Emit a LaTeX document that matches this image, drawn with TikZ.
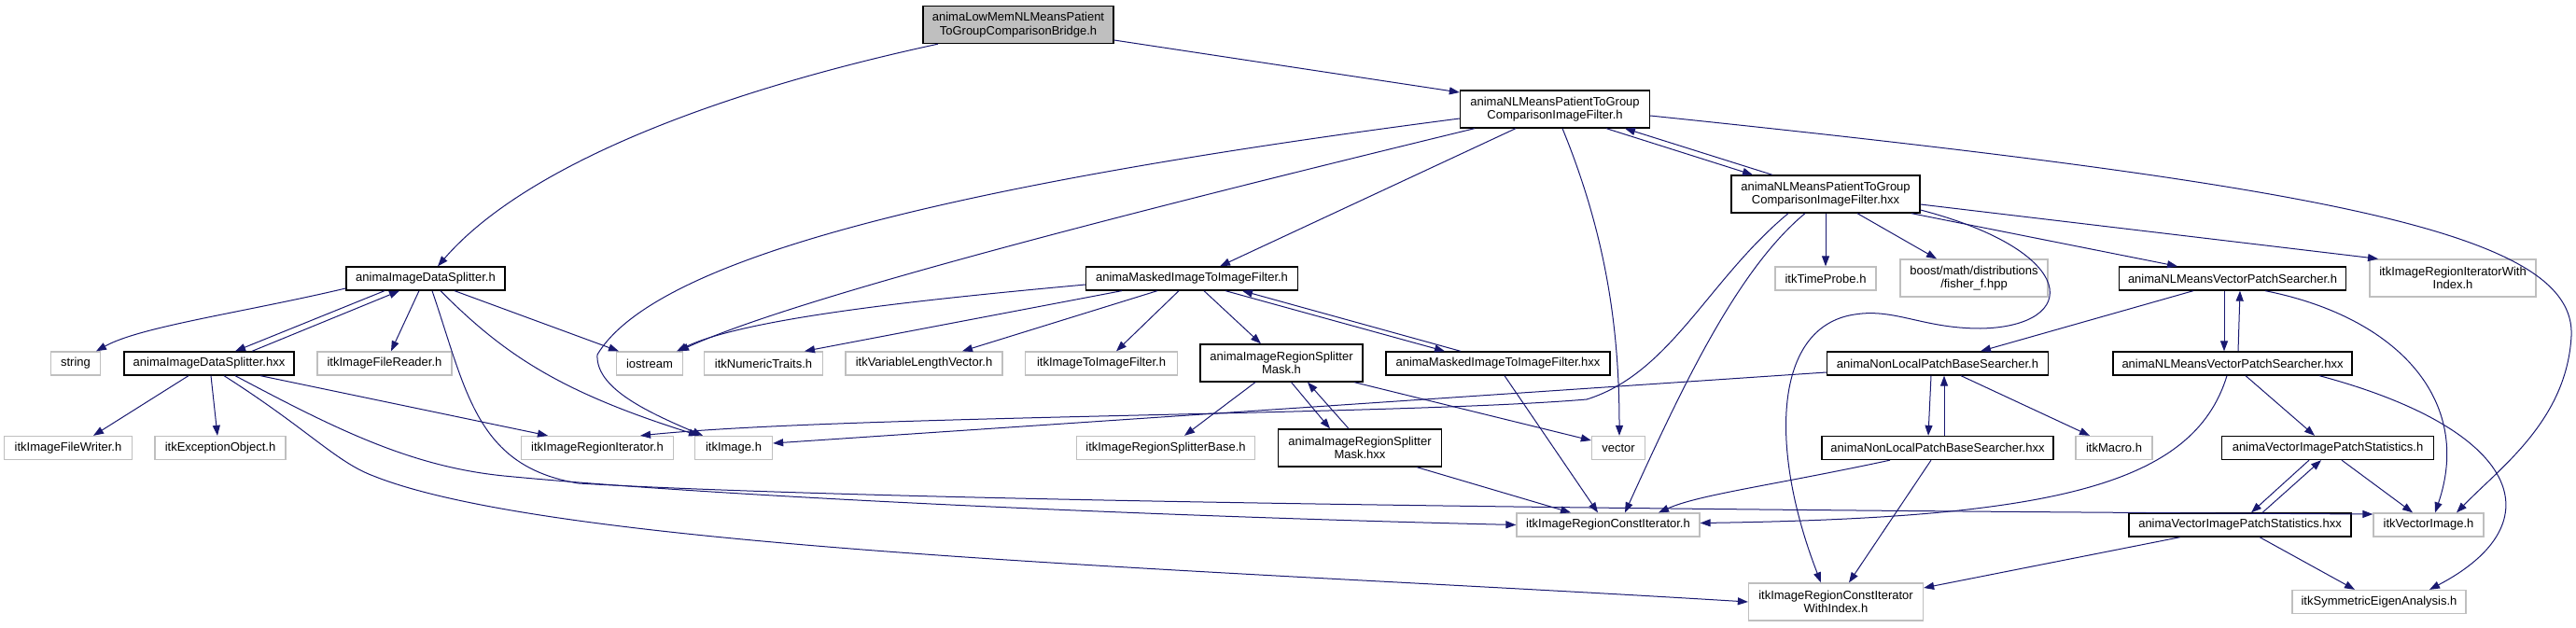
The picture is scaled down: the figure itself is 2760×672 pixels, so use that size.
\documentclass[tikz,border=0pt]{standalone}
\usepackage{fontspec}
\setmainfont{Liberation Sans}
\usetikzlibrary{arrows.meta}
\definecolor{edgeblue}{HTML}{191970}
\definecolor{greyline}{HTML}{BFBFBF}
\tikzset{
  hdrnode/.style={draw=black,line width=1.3pt,fill=white,inner sep=0pt,minimum height=25pt,align=center,font=\fontsize{13}{14.5}\selectfont},
  rootnode/.style={hdrnode,fill=greyline},
  extnode/.style={hdrnode,draw=greyline},
  twoline/.style={minimum height=40pt},
  incl/.style={-{Triangle[length=11pt,width=8pt]},edgeblue,line width=1pt}
}

\begin{document}
\begin{tikzpicture}[x=1pt,y=-1pt]
  \useasboundingbox (0,0) rectangle (2760,672);

  % Files of the graph
  \node[rootnode,twoline,minimum width=204pt] (root) at (1091,26.5) {animaLowMemNLMeansPatient\\ToGroupComparisonBridge.h};
  \node[hdrnode,twoline,minimum width=203pt] (filterh) at (1666,117) {animaNLMeansPatientToGroup\\ComparisonImageFilter.h};
  \node[hdrnode,minimum width=170pt] (splith) at (456,298.5) {animaImageDataSplitter.h};
  \node[hdrnode,minimum width=227pt] (maskh) at (1277,298.5) {animaMaskedImageToImageFilter.h};
  \node[hdrnode,twoline,minimum width=202pt] (filterhxx) at (1956,208) {animaNLMeansPatientToGroup\\ComparisonImageFilter.hxx};
  \node[extnode,minimum width=108pt] (timeprobe) at (1956,298.5) {itkTimeProbe.h};
  \node[extnode,twoline,minimum width=158pt] (boost) at (2115,298) {boost/math/distributions\\/fisher\_f.hpp};
  \node[hdrnode,minimum width=243pt] (nlmvpsh) at (2392,298.5) {animaNLMeansVectorPatchSearcher.h};
  \node[extnode,twoline,minimum width=178pt] (iterwi) at (2628,298) {itkImageRegionIteratorWith\\Index.h};

  \node[extnode,minimum width=53pt] (string) at (81,389.5) {string};
  \node[hdrnode,minimum width=182pt] (splithxx) at (224,389.5) {animaImageDataSplitter.hxx};
  \node[extnode,minimum width=144pt] (filereader) at (412,389.5) {itkImageFileReader.h};
  \node[extnode,minimum width=71pt] (iostream) at (696,389.5) {iostream};
  \node[extnode,minimum width=127pt] (numtraits) at (818,389.5) {itkNumericTraits.h};
  \node[extnode,minimum width=168pt] (varlen) at (990,389.5) {itkVariableLengthVector.h};
  \node[extnode,minimum width=163pt] (imgfilter) at (1180,389.5) {itkImageToImageFilter.h};
  \node[hdrnode,twoline,minimum width=174pt] (splitmaskh) at (1373,389) {animaImageRegionSplitter\\Mask.h};
  \node[hdrnode,minimum width=240pt] (maskhxx) at (1605,389.5) {animaMaskedImageToImageFilter.hxx};
  \node[hdrnode,minimum width=237pt] (nlpbsh) at (2076,389.5) {animaNonLocalPatchBaseSearcher.h};
  \node[hdrnode,minimum width=256pt] (nlmvpshxx) at (2392,389.5) {animaNLMeansVectorPatchSearcher.hxx};

  \node[extnode,minimum width=137pt] (filewriter) at (73,480) {itkImageFileWriter.h};
  \node[extnode,minimum width=140pt] (exception) at (236,480) {itkExceptionObject.h};
  \node[extnode,minimum width=163pt] (regioniter) at (640,480) {itkImageRegionIterator.h};
  \node[extnode,minimum width=83pt] (itkimage) at (786,480) {itkImage.h};
  \node[extnode,minimum width=191pt] (splitbase) at (1249,480) {itkImageRegionSplitterBase.h};
  \node[hdrnode,twoline,minimum width=175pt] (splitmaskhxx) at (1457,480) {animaImageRegionSplitter\\Mask.hxx};
  \node[extnode,minimum width=57pt] (vector) at (1734,480) {vector};
  \node[hdrnode,minimum width=248pt] (nlpbshxx) at (2076,480) {animaNonLocalPatchBaseSearcher.hxx};
  \node[extnode,minimum width=82pt] (macro) at (2265,480) {itkMacro.h};
  \node[hdrnode,minimum width=227pt] (vipsh) at (2494,480) {animaVectorImagePatchStatistics.h};

  \node[extnode,minimum width=196pt] (constiter) at (1723,562.5) {itkImageRegionConstIterator.h};
  \node[hdrnode,minimum width=238pt] (vipshxx) at (2400,562.5) {animaVectorImagePatchStatistics.hxx};
  \node[extnode,minimum width=118pt] (vecimg) at (2602,562.5) {itkVectorImage.h};
  \node[extnode,twoline,minimum width=187pt] (constiterwi) at (1967,645) {itkImageRegionConstIterator\\WithIndex.h};
  \node[extnode,minimum width=186pt] (symeig) at (2549,645) {itkSymmetricEigenAnalysis.h};

  % Root file
  \draw[incl] ([xshift=-86pt]root.south) .. controls (760,100) and (560,180) .. ([xshift=13pt]splith.north);
  \draw[incl] ([yshift=-16.5pt]root.east) -- ([yshift=18pt]filterh.west);

  % Filter header
  \draw[incl] ([yshift=-10pt]filterh.west) .. controls (1000,200) and (700,280) .. (640,380) .. controls (638,415) and (690,440) .. ([xshift=-33pt]itkimage.north);
  \draw[incl] ([xshift=-86pt]filterh.south) .. controls (1200,230) and (850,320) .. ([xshift=31pt]iostream.north);
  \draw[incl] ([yshift=-7pt]filterh.east) .. controls (2500,200) and (2760,250) .. (2755,360) .. controls (2750,450) and (2680,500) .. ([xshift=30pt]vecimg.north);
  \draw[incl] ([xshift=-42pt]filterh.south) -- ([xshift=30pt]maskh.north);
  \draw[incl] ([xshift=8pt]filterh.south) .. controls (1720,250) and (1735,350) .. ([xshift=1pt]vector.north);
  \draw[incl] ([xshift=55pt]filterh.south) -- ([xshift=-78pt]filterhxx.north);
  \draw[incl] ([xshift=-57pt]filterhxx.north) -- ([xshift=75pt]filterh.south);

  % Filter implementation
  \draw[incl] (filterhxx.south) -- (timeprobe.north);
  \draw[incl] ([xshift=34pt]filterhxx.south) -- ([xshift=-40pt]boost.north);
  \draw[incl] ([xshift=92pt]filterhxx.south) -- ([xshift=-59pt]nlmvpsh.north);
  \draw[incl] ([yshift=-11pt]filterhxx.east) -- ([xshift=-80pt]iterwi.north);
  \draw[incl] ([yshift=-17pt]filterhxx.east) .. controls (2230,270) and (2230,350) .. (2122,352) .. controls (2060,352) and (2030,330) .. (1987,337) .. controls (1900,350) and (1895,480) .. ([xshift=-16pt]constiterwi.north);
  \draw[incl] ([xshift=-22pt]filterhxx.south) .. controls (1860,290) and (1800,420) .. ([xshift=18pt]constiter.north);
  \draw[incl] ([xshift=-40pt]filterhxx.south) .. controls (1830,300) and (1790,400) .. (1700,428) .. controls (1500,445) and (900,445) .. ([xshift=46pt]regioniter.north);

  % Vector patch searcher
  \draw[incl] ([xshift=-42pt]nlmvpsh.south) -- ([xshift=46pt]nlpbsh.north);
  \draw[incl] ([xshift=-9pt]nlmvpsh.south) -- ([xshift=-9pt]nlmvpshxx.north);
  \draw[incl] ([xshift=6pt]nlmvpshxx.north) -- ([xshift=8pt]nlmvpsh.south);
  \draw[incl] ([xshift=35pt]nlmvpsh.south) .. controls (2570,340) and (2650,430) .. ([xshift=7pt]vecimg.north);
  \draw[incl] ([xshift=14pt]nlmvpshxx.south) -- ([xshift=-14pt]vipsh.north);
  \draw[incl] ([xshift=93pt]nlmvpshxx.south) .. controls (2700,460) and (2740,560) .. ([xshift=54pt]symeig.north);
  \draw[incl] ([xshift=-6pt]nlmvpshxx.south) .. controls (2350,520) and (2200,555) .. ([yshift=2pt]constiter.east);

  % Non local patch searcher
  \draw[incl] ([yshift=-9.5pt]nlpbsh.west) -- ([yshift=5pt]itkimage.east);
  \draw[incl] ([xshift=-7pt]nlpbsh.south) -- ([xshift=-10pt]nlpbshxx.north);
  \draw[incl] ([xshift=7pt]nlpbshxx.north) -- ([xshift=7pt]nlpbsh.south);
  \draw[incl] ([xshift=25pt]nlpbsh.south) -- ([xshift=-26pt]macro.north);
  \draw[incl] ([xshift=-51pt]nlpbshxx.south) .. controls (1900,520) and (1820,530) .. ([xshift=54pt]constiter.north);
  \draw[incl] ([xshift=-7pt]nlpbshxx.south) -- ([xshift=14pt]constiterwi.north);

  % Patch statistics
  \draw[incl] ([xshift=-20pt]vipsh.south) -- ([xshift=12pt]vipshxx.north);
  \draw[incl] ([xshift=24pt]vipshxx.north) -- ([xshift=-7pt]vipsh.south);
  \draw[incl] ([xshift=15pt]vipsh.south) -- ([xshift=-17pt]vecimg.north);
  \draw[incl] ([xshift=-64pt]vipshxx.south) -- ([yshift=15pt]constiterwi.east);
  \draw[incl] ([xshift=21pt]vipshxx.south) -- ([xshift=-26pt]symeig.north);

  % Data splitter
  \draw[incl] ([xshift=7pt]splith.south) .. controls (500,420) and (510,500) .. (620,518) .. controls (1000,540) and (2000,548) .. ([yshift=11.5pt]vecimg.west);
  \draw[incl] ([xshift=28pt]splithxx.south) .. controls (360,460) and (440,500) .. (540,510) .. controls (800,535) and (1300,555) .. (constiter.west);
  \draw[incl] ([xshift=16pt]splithxx.south) .. controls (330,460) and (360,495) .. (400,510) .. controls (600,590) and (1300,610) .. (constiterwi.west);
  \draw[incl] ([xshift=55pt]splithxx.south) -- ([xshift=-53pt]regioniter.north);
  \draw[incl] ([xshift=-22pt]splithxx.south) -- ([xshift=27pt]filewriter.north);
  \draw[incl] ([xshift=2pt]splithxx.south) -- ([xshift=-3pt]exception.north);
  \draw[incl] ([xshift=-44pt]splith.south) -- ([xshift=28pt]splithxx.north);
  \draw[incl] ([xshift=46pt]splithxx.north) -- ([xshift=-28pt]splith.south);
  \draw[incl] ([yshift=-10.5pt]splith.west) .. controls (260,335) and (150,350) .. ([xshift=22pt]string.north);
  \draw[incl] ([xshift=-7pt]splith.south) -- ([xshift=7pt]filereader.north);
  \draw[incl] ([xshift=16pt]splith.south) .. controls (540,380) and (600,420) .. ([xshift=-37pt]itkimage.north);
  \draw[incl] ([xshift=31pt]splith.south) -- ([xshift=-33pt]iostream.north);

  % Masked filter
  \draw[incl] ([yshift=-6.5pt]maskh.west) .. controls (1000,320) and (800,340) .. ([xshift=29pt]iostream.north);
  \draw[incl] ([xshift=-75pt]maskh.south) -- ([xshift=44pt]numtraits.north);
  \draw[incl] ([xshift=-37pt]maskh.south) -- ([xshift=41pt]varlen.north);
  \draw[incl] ([xshift=-14pt]maskh.south) -- ([xshift=16pt]imgfilter.north);
  \draw[incl] ([xshift=13pt]maskh.south) -- ([xshift=-22pt]splitmaskh.north);
  \draw[incl] ([xshift=36pt]maskh.south) -- ([xshift=-57pt]maskhxx.north);
  \draw[incl] ([xshift=-40pt]maskhxx.north) -- ([xshift=54pt]maskh.south);
  \draw[incl] ([xshift=7pt]maskhxx.south) -- ([xshift=-11pt]constiter.north);

  % Region splitter mask
  \draw[incl] ([xshift=-28pt]splitmaskh.south) -- ([xshift=20pt]splitbase.north);
  \draw[incl] ([xshift=10.5pt]splitmaskh.south) -- ([xshift=-32pt]splitmaskhxx.north);
  \draw[incl] ([xshift=-12pt]splitmaskhxx.north) -- ([xshift=28pt]splitmaskh.south);
  \draw[incl] ([xshift=78pt]splitmaskh.south) -- ([yshift=8pt]vector.west);
  \draw[incl] ([xshift=61pt]splitmaskhxx.south) -- ([xshift=-40pt]constiter.north);
\end{tikzpicture}
\end{document}
